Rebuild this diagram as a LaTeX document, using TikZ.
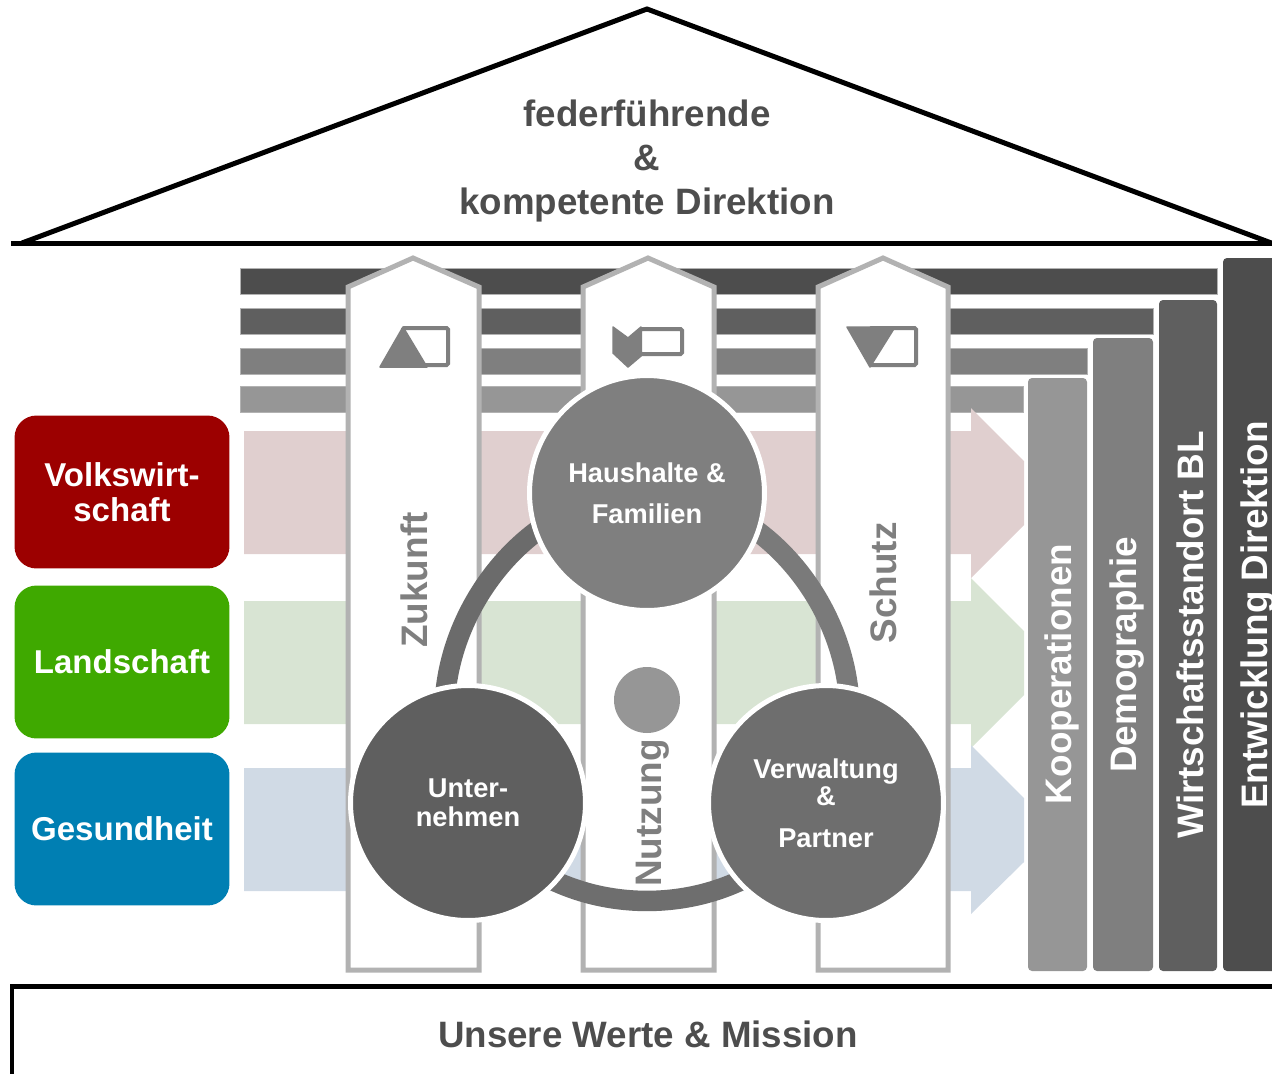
\documentclass[tikz,border=0pt]{standalone}
\usepackage{fontspec}
\setmainfont{Liberation Sans}
\usepackage{xcolor}
\usetikzlibrary{shapes,arrows,positioning,backgrounds}
\definecolor{bardark}{HTML}{4D4D4D}
\definecolor{barmid}{HTML}{5F5F5F}
\definecolor{barlight}{HTML}{7F7F7F}
\definecolor{barpale}{HTML}{969696}
\definecolor{pillarline}{HTML}{B2B2B2}
\definecolor{arrowred}{HTML}{E0CFCF}
\definecolor{arrowgreen}{HTML}{D8E4D3}
\definecolor{arrowblue}{HTML}{D0DAE5}
\tikzset{
    topicbox/.style={draw=none, rectangle, rounded corners=0.44cm, text=white, align=center, minimum width=4.3cm, minimum height=3.06cm, font=\bfseries\fontsize{18.8}{20}\selectfont},
    groupcircle/.style={draw=white, line width=0.1cm, circle, minimum size=4.7cm, inner sep=0pt, text=white, align=center, font=\bfseries\fontsize{15.5}{16.5}\selectfont},
    bartext/.style={rotate=90, text=white, inner sep=0pt, font=\bfseries\fontsize{21}{24}\selectfont},
    pillartext/.style={rotate=90, text=barlight, inner sep=0pt, font=\bfseries\fontsize{21}{24}\selectfont},
    housetext/.style={text=bardark, align=center, inner sep=0pt, font=\bfseries\fontsize{20.9}{25.2}\selectfont},
    hbar/.style={draw=pillarline, line width=0.02cm},
    vbar/.style={rounded corners=0.08cm},
    pillar/.style={draw=pillarline, fill=white, line width=0.1cm, miter limit=2},
    ringline/.style={line width=0.41cm},
    houseline/.style={draw=black, line width=0.1cm},
    iconline/.style={draw=barlight, line width=0.08cm, rounded corners=0.03cm},
    iconfill/.style={fill=barlight, draw=barlight, line width=0.03cm, line join=round}
}
\begin{document}
\begin{tikzpicture}[x=0.02cm, y=-0.02cm]
    \useasboundingbox (0,0) rectangle (1272,1073);
    \clip (0,0) rectangle (1272,1073);

    \draw[houseline, line join=miter] (1290,250) -- (647,9) -- (22,243);
    \draw[houseline] (11,243) -- (1290,243);
    \node[housetext] (direktion) at (647,161) {federführende\\\&\\kompetente Direktion};

    \node[topicbox, fill={rgb,255:red,156;green,0;blue,0}] (volk) at (122,492) {Volkswirt-\\schaft};
    \node[topicbox, fill={rgb,255:red,63;green,169;blue,0}] (land) at (122,662) {Landschaft};
    \node[topicbox, fill={rgb,255:red,0;green,127;blue,179}] (gesund) at (122,829) {Gesundheit};

    \node[groupcircle, fill=barlight] (haushalte) at (647,493) {Haushalte \&\\[0.24cm]Familien};
    \node[groupcircle, fill=barmid] (unter) at (468,803) {Unter-\\nehmen};
    \node[groupcircle, fill=black!57] (verwaltung) at (826,803) {Verwaltung\\[-0.02cm]\&\\[0.25cm]Partner};

    \node[fill=barpale, circle, minimum size=1.32cm, inner sep=0pt] (punkt) at (647,700) {};

    \node[pillartext] (zukunft) at (414,580) {Zukunft};
    \node[pillartext] (nutzung) at (653,813) {Nutzung};
    \node[pillartext] (schutz) at (883,583) {Schutz};

    \fill[vbar, barpale] (1028,378) rectangle (1087,971);
    \fill[vbar, barlight] (1093,338) rectangle (1153,971);
    \fill[vbar, barmid] (1159,300) rectangle (1217,971);
    \fill[vbar, bardark] (1223,258) rectangle (1290,971);
    \node[bartext] (koop) at (1062,674) {Kooperationen};
    \node[bartext] (demo) at (1127,655) {Demographie};
    \node[bartext] (wirt) at (1190,635) {Wirtschaftsstandort BL};
    \node[bartext] (entw) at (1258,615) {Entwicklung Direktion};

    \draw[houseline] (12,1090) -- (12,986) -- (1290,986);
    \node[housetext] (werte) at (648,1034) {Unsere Werte \& Mission};

    \begin{scope}[on background layer]
        \fill[bardark, hbar] (240,268) rectangle (1217,294);
        \fill[barmid, hbar] (240,308) rectangle (1153,334);
        \fill[barlight, hbar] (240,348) rectangle (1087,374);
        \fill[barpale, hbar] (240,386) rectangle (1023,412);

        \fill[arrowred] (244,431) -- (971,431) -- (971,408) -- (1024,461) -- (1024,525) -- (971,578) -- (971,554) -- (244,554) -- cycle;
        \fill[arrowgreen] (244,601) -- (971,601) -- (971,578) -- (1024,631) -- (1024,695) -- (971,748) -- (971,724) -- (244,724) -- cycle;
        \fill[arrowblue] (244,768) -- (971,768) -- (971,745) -- (1024,798) -- (1024,862) -- (971,914) -- (971,891) -- (244,891) -- cycle;

        \draw[pillar] (348,970) -- (348,287) -- (413,258) -- (479,287) -- (479,970) -- cycle;
        \draw[pillar] (583,970) -- (583,287) -- (648,258) -- (714,287) -- (714,970) -- cycle;
        \draw[pillar] (818,970) -- (818,287) -- (883,258) -- (948,287) -- (948,970) -- cycle;

        \draw[iconline] (403,328) rectangle (448,365);
        \fill[iconfill] (403,327) -- (380,367) -- (427,367) -- cycle;
        \draw[iconline] (640,329) rectangle (682,354);
        \fill[iconfill] (613,327) -- (628,338) -- (641,327) -- (641,356) -- (628,367) -- (613,353) -- cycle;
        \draw[iconline] (870,328) rectangle (916,365);
        \fill[iconfill] (847,327) -- (895,327) -- (870,367) -- cycle;

        \draw[ringline, draw=black!58] (haushalte.center) to[bend right=60, looseness=1.04] (unter.center);
        \draw[ringline, draw=black!57] (unter.center) to[bend right=60, looseness=1.08] (verwaltung.center);
        \draw[ringline, draw=black!52] (verwaltung.center) to[bend right=60, looseness=1.04] (haushalte.center);
    \end{scope}
\end{tikzpicture}
\end{document}
